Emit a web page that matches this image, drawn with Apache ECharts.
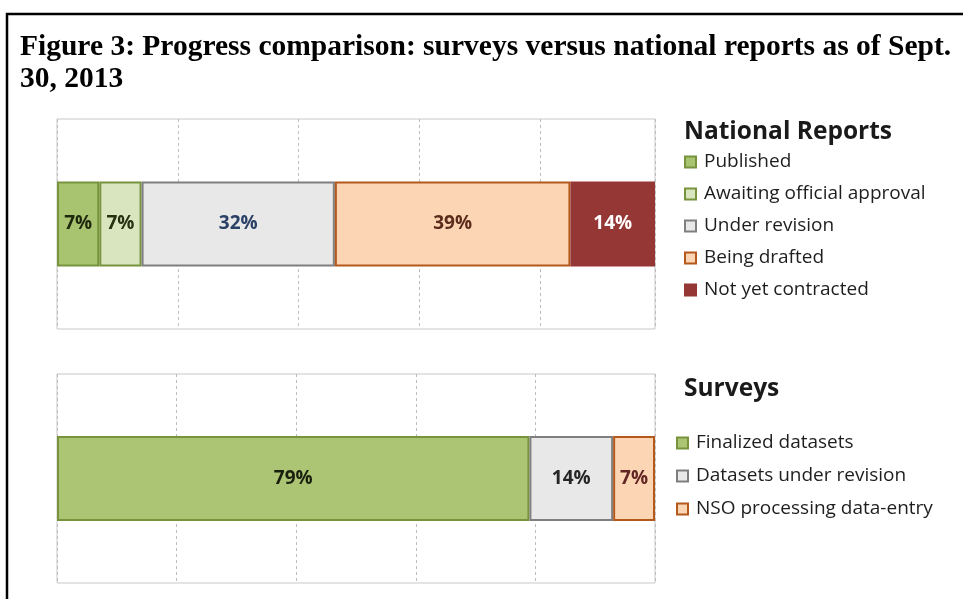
<!DOCTYPE html>
<html>
<head>
<meta charset="utf-8">
<title>Figure 3: Progress comparison</title>
<script src="https://cdn.jsdelivr.net/npm/echarts@6/dist/echarts.min.js"></script>
<style>
  html, body { margin: 0; padding: 0; background: #ffffff; }
  #chart { width: 963px; height: 599px; }
</style>
</head>
<body>
<div id="chart"></div>
<script>
// National reports: share of countries at each stage (%)
const reportCategories = ['Published', 'Awaiting official approval', 'Under revision', 'Being drafted', 'Not yet contracted'];
const reportValues = [7, 7, 32, 39, 14];

// Surveys: share of countries at each stage (%)
const surveyCategories = ['Finalized datasets', 'Datasets under revision', 'NSO processing data-entry'];
const surveyValues = [79, 14, 7];

// Fill, border and label colours for each stage
const reportFills = ['#a9c470', '#d9e5bf', '#e8e8e8', '#fcd5b5', '#953735'];
const reportBorders = ['#77933c', '#77933c', '#7f7f7f', '#b4581c', '#953735'];
const reportLabelColors = ['#1d280d', '#243212', '#2a4066', '#5b2c1c', '#ffffff'];

const surveyFills = ['#abc575', '#e8e8e8', '#fcd5b5'];
const surveyBorders = ['#77933c', '#7f7f7f', '#b4581c'];
const surveyLabelColors = ['#1a200e', '#262626', '#632523'];

const reportTotal = reportValues.reduce((a, b) => a + b, 0);
const surveyTotal = surveyValues.reduce((a, b) => a + b, 0);

const uiFont = '"Open Sans", "Noto Sans", sans-serif';

function stackSeries(names, values, fills, borders, labelColors, axisIndex, stackName) {
  return names.map((name, i) => ({
    name: name,
    type: 'bar',
    stack: stackName,
    xAxisIndex: axisIndex,
    yAxisIndex: axisIndex,
    barWidth: 85,
    data: [values[i]],
    itemStyle: { color: fills[i], borderColor: borders[i], borderWidth: 2 },
    label: {
      show: true,
      position: 'inside',
      formatter: '{c}%',
      color: labelColors[i],
      fontFamily: uiFont,
      fontWeight: 'bold',
      fontSize: 19
    },
    emphasis: { disabled: true },
    animation: false
  }));
}

const valueAxis = (gridIndex, max) => ({
  type: 'value',
  gridIndex: gridIndex,
  min: 0,
  max: max,
  interval: 20,
  axisLine: { show: false },
  axisTick: { show: false },
  axisLabel: { show: false },
  splitLine: { show: true, lineStyle: { color: '#bdbdbd', type: [3, 3], width: 1 } }
});

const categoryAxis = (gridIndex, label) => ({
  type: 'category',
  gridIndex: gridIndex,
  data: [label],
  axisLine: { show: false },
  axisTick: { show: false },
  axisLabel: { show: false },
  splitLine: { show: false }
});

const legendText = { fontFamily: uiFont, fontSize: 19, color: '#1e1e1e', lineHeight: 20, padding: [0, 0, 0, 3] };

const chart = echarts.init(document.getElementById('chart'), null, { renderer: 'canvas' });

chart.setOption({
  backgroundColor: '#ffffff',
  animation: false,
  title: [
    {
      text: 'Figure 3: Progress comparison: surveys versus national reports as of Sept.\n30, 2013',
      left: 15,
      top: 26,
      textStyle: {
        fontFamily: '"Liberation Serif", "Times New Roman", serif',
        fontWeight: 'bold',
        fontSize: 29.5,
        lineHeight: 32,
        color: '#000000'
      }
    },
    {
      text: 'National Reports',
      left: 679,
      top: 115,
      textStyle: { fontFamily: uiFont, fontWeight: 'bold', fontSize: 24.5, color: '#1a1a1a' }
    },
    {
      text: 'Surveys',
      left: 679,
      top: 372,
      textStyle: { fontFamily: uiFont, fontWeight: 'bold', fontSize: 24.5, color: '#1a1a1a' }
    }
  ],
  legend: [
    {
      data: reportCategories,
      orient: 'vertical',
      left: 679,
      top: 147,
      itemWidth: 11,
      itemHeight: 11,
      itemGap: 12,
      icon: 'rect',
      selectedMode: false,
      textStyle: legendText
    },
    {
      data: surveyCategories,
      orient: 'vertical',
      left: 671,
      top: 428,
      itemWidth: 11,
      itemHeight: 11,
      itemGap: 13,
      icon: 'rect',
      selectedMode: false,
      textStyle: legendText
    }
  ],
  grid: [
    { left: 57, top: 119, width: 598, height: 210, show: true, borderColor: '#c8c8c8', borderWidth: 1, backgroundColor: '#ffffff' },
    { left: 57, top: 374, width: 598, height: 209, show: true, borderColor: '#c8c8c8', borderWidth: 1, backgroundColor: '#ffffff' }
  ],
  xAxis: [valueAxis(0, reportTotal), valueAxis(1, surveyTotal)],
  yAxis: [categoryAxis(0, 'National Reports'), categoryAxis(1, 'Surveys')],
  series: [
    ...stackSeries(reportCategories, reportValues, reportFills, reportBorders, reportLabelColors, 0, 'reports'),
    ...stackSeries(surveyCategories, surveyValues, surveyFills, surveyBorders, surveyLabelColors, 1, 'surveys')
  ],
  graphic: [
    {
      type: 'rect',
      silent: true,
      z: 100,
      shape: { x: 7, y: 14, width: 1000, height: 700 },
      style: { fill: 'none', stroke: '#000000', lineWidth: 2.5 }
    }
  ]
});
</script>
</body>
</html>
